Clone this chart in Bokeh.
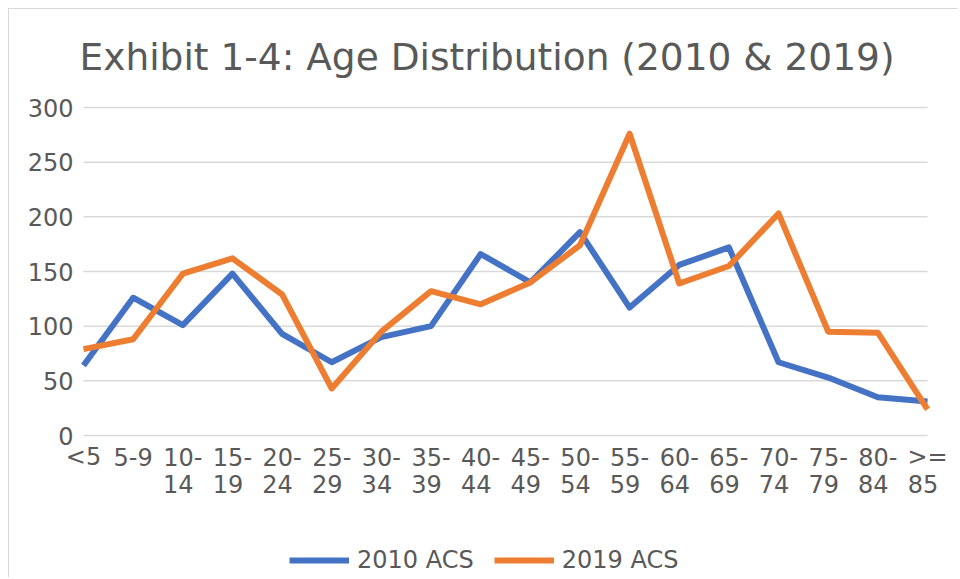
from bokeh.plotting import figure
from bokeh.models import Range1d, Legend, LegendItem
from bokeh.core.properties import value
from bokeh.embed import file_html
from bokeh.resources import INLINE

categories = ["<5", "5-9", "10-14", "15-19", "20-24", "25-29", "30-34", "35-39", "40-44",
              "45-49", "50-54", "55-59", "60-64", "65-69", "70-74", "75-79", "80-84", ">=85"]
tick_line1 = ["<5", "5-9", "10-", "15-", "20-", "25-", "30-", "35-", "40-", "45-", "50-",
              "55-", "60-", "65-", "70-", "75-", "80-", ">="]
tick_line2 = ["", "", "14", "19", "24", "29", "34", "39", "44", "49", "54", "59", "64",
              "69", "74", "79", "84", "85"]
acs_2010 = [64, 126, 101, 148, 93, 67, 90, 100, 166, 140, 186, 117, 156, 172, 67, 53, 35, 31]
acs_2019 = [79, 88, 148, 162, 129, 43, 95, 132, 120, 140, 174, 276, 139, 155, 203, 95, 94, 24]
y_ticks = [0, 50, 100, 150, 200, 250, 300]

TEXT = "#595959"
FONT = "DejaVu Sans"
FS = "24px"
xs = list(range(len(categories)))

# layout (pixels)
W, H = 950, 569
TOP = 84
ORIGIN = 9                      # page offset of the figure (margin + border)
PLOT_L, PLOT_R = 83, 927        # page x of first / last category
PLOT_T = 107                    # page y of the top value tick
PX_PER_CAT = (PLOT_R - PLOT_L) / (len(xs) - 1)
PX_PER_UNIT = 328 / (y_ticks[-1] - y_ticks[0])
x_start = xs[0] - (PLOT_L - ORIGIN) / PX_PER_CAT
x_end = xs[-1] + (ORIGIN + W - PLOT_R) / PX_PER_CAT
y_end = y_ticks[-1] + (PLOT_T - ORIGIN - TOP) / PX_PER_UNIT
y_start = y_end - (H - TOP) / PX_PER_UNIT

p = figure(width=W, height=H, output_backend="svg", toolbar_location=None,
           x_axis_location=None, y_axis_location=None,
           x_range=Range1d(x_start, x_end), y_range=Range1d(y_start, y_end),
           min_border_left=0, min_border_right=0, min_border_top=TOP, min_border_bottom=0)
p.styles = {"margin-left": "8px", "margin-top": "8px",
            "border-left": "1px solid #D9D9D9", "border-top": "1px solid #D9D9D9"}
p.outline_line_color = None
p.background_fill_color = "white"
p.border_fill_color = "white"
p.xgrid.visible = False
p.ygrid.visible = False

p.title.text = "Exhibit 1-4: Age Distribution (2010 & 2019)"
p.title.text_font = FONT
p.title.text_font_size = "37.5px"
p.title.text_font_style = "normal"
p.title.text_color = TEXT
p.title.align = "left"
p.title.offset = 70
p.title.standoff = 30

# horizontal gridlines at the value ticks, spanning the categories
n = len(y_ticks)
p.segment(x0=[xs[0]] * n, x1=[xs[-1]] * n, y0=y_ticks, y1=y_ticks,
          line_color="#D9D9D9", line_width=1.5)

r1 = p.line(xs, acs_2010, line_color="#4472C4", line_width=6, line_join="round")
r2 = p.line(xs, acs_2019, line_color="#ED7D31", line_width=6, line_join="round")

# value labels
p.text(x=[xs[0]] * n, y=y_ticks, text=[str(t) for t in y_ticks], text_align="right",
       text_baseline="middle", x_offset=-10, text_font=value(FONT),
       text_font_size=value(FS), text_color=TEXT)

# category labels under the zero line
base = [y_ticks[0]] * len(xs)
p.text(x=xs, y=base, text=tick_line1, text_align="center", text_baseline="alphabetic",
       y_offset=21, text_font=value(FONT), text_font_size=value(FS), text_color=TEXT)
p.text(x=xs, y=base, text=tick_line2, text_align="center", text_baseline="alphabetic",
       x_offset=-4.5, y_offset=48, text_font=value(FONT), text_font_size=value(FS),
       text_color=TEXT)

legend = Legend(items=[LegendItem(label="2010 ACS", renderers=[r1]),
                       LegendItem(label="2019 ACS", renderers=[r2])],
                location=(280, 4), orientation="horizontal",
                glyph_width=60, glyph_height=24, label_text_font=FONT,
                label_text_font_size=FS, label_text_color=TEXT,
                label_standoff=8, spacing=20, padding=0, margin=0,
                border_line_color=None, background_fill_alpha=0)
p.add_layout(legend)

open("out.html", "w").write(file_html(p, INLINE))
